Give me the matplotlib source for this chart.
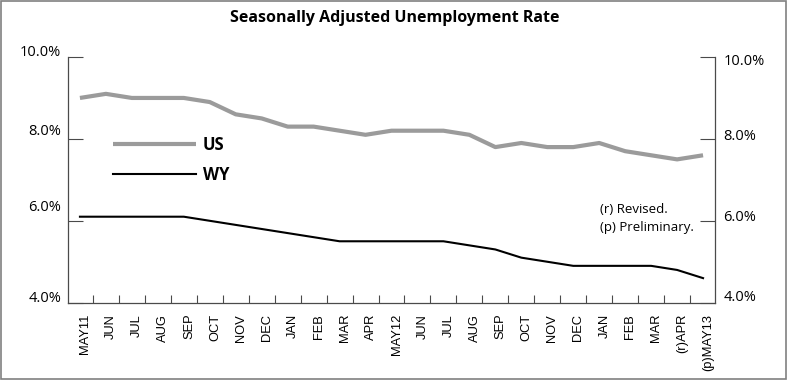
import matplotlib.pyplot as plt
from matplotlib.patches import Rectangle
from matplotlib.transforms import ScaledTranslation

months = ["MAY11", "JUN", "JUL", "AUG", "SEP", "OCT", "NOV", "DEC", "JAN", "FEB",
          "MAR", "APR", "MAY12", "JUN", "JUL", "AUG", "SEP", "OCT", "NOV", "DEC",
          "JAN", "FEB", "MAR", "(r)APR", "(p)MAY13"]
us_rate = [9.0, 9.1, 9.0, 9.0, 9.0, 8.9, 8.6, 8.5, 8.3, 8.3, 8.2, 8.1, 8.2,
           8.2, 8.2, 8.1, 7.8, 7.9, 7.8, 7.8, 7.9, 7.7, 7.6, 7.5, 7.6]
wy_rate = [6.1, 6.1, 6.1, 6.1, 6.1, 6.0, 5.9, 5.8, 5.7, 5.6, 5.5, 5.5, 5.5,
           5.5, 5.5, 5.4, 5.3, 5.1, 5.0, 4.9, 4.9, 4.9, 4.9, 4.8, 4.6]
y_ticks = [4, 6, 8, 10]
y_labels = ["4.0%", "6.0%", "8.0%", "10.0%"]

plt.rcParams["font.family"] = ["Open Sans", "DejaVu Sans"]

W, H = 789, 381
fig = plt.figure(figsize=(W / 100, H / 100), dpi=100)
ax = fig.add_axes([68 / W, 1 - 302.7 / H, (715 - 68) / W, (302.7 - 57) / H])

x = list(range(len(months)))
ax.plot(x, us_rate, color="#9b9b9b", lw=3.0, solid_capstyle="butt", label="US")
ax.plot(x, wy_rate, color="black", lw=1.5, label="WY")

ax.set_xlim(-0.46, len(months) - 0.54)
ax.set_ylim(4, 10)

spine_col = "#4a4a4a"
for s in ["left", "right", "bottom"]:
    ax.spines[s].set_color(spine_col)
    ax.spines[s].set_linewidth(0.9)
ax.spines["top"].set_visible(False)

# category boundaries get the tick marks, labels sit just right of the points
ax.set_xticks([i + 0.5 for i in x[:-1]])
ax.set_xticklabels([])
ax.set_xticks([i + 0.2 for i in x], minor=True)
ax.set_xticklabels(months, minor=True, rotation=90, fontsize=9.3,
                   family="Liberation Sans")
ax.tick_params(axis="x", which="major", direction="in", length=6, color=spine_col)
ax.tick_params(axis="x", which="minor", length=0, pad=8)

ax.set_yticks(y_ticks)
ax.set_yticklabels(y_labels, fontsize=10.5)
ax.tick_params(axis="y", direction="in", length=11, color=spine_col, pad=5)
for lab, dy in zip(ax.get_yticklabels(), [6, 15, 9, 7]):
    lab.set_transform(lab.get_transform() + ScaledTranslation(0, dy / 100, fig.dpi_scale_trans))

rax = ax.twinx()
rax.set_ylim(4, 10)
rax.set_yticks(y_ticks)
rax.set_yticklabels(y_labels, fontsize=10.5)
rax.tick_params(axis="y", direction="in", length=11, color=spine_col, pad=6)
for s in rax.spines.values():
    s.set_visible(False)
for lab, dy in zip(rax.get_yticklabels(), [7, 5, 4, -2]):
    lab.set_transform(lab.get_transform() + ScaledTranslation(0, dy / 100, fig.dpi_scale_trans))

ax.legend(loc="upper left", bbox_to_anchor=(113 / W, 1 - 136 / H),
          bbox_transform=fig.transFigure, frameon=False, borderpad=0,
          borderaxespad=0, handlelength=5.0, handletextpad=0.4,
          labelspacing=0.7, prop={"weight": "bold", "size": 12})

ax.text(600 / W, 1 - 203 / H, "(r) Revised.\n(p) Preliminary.", transform=fig.transFigure,
        fontsize=9.5, va="top", ha="left", linespacing=1.45)

fig.text(0.5, 1 - 18 / H, "Seasonally Adjusted Unemployment Rate", ha="center",
         va="center", fontsize=11.5, fontweight="bold")

fig.add_artist(Rectangle((0.5 / W, 2 / H), 785 / W, (H - 2.5) / H, transform=fig.transFigure,
                         fill=False, edgecolor="#808080", lw=1.2))

fig.savefig("out.png", dpi=100)
